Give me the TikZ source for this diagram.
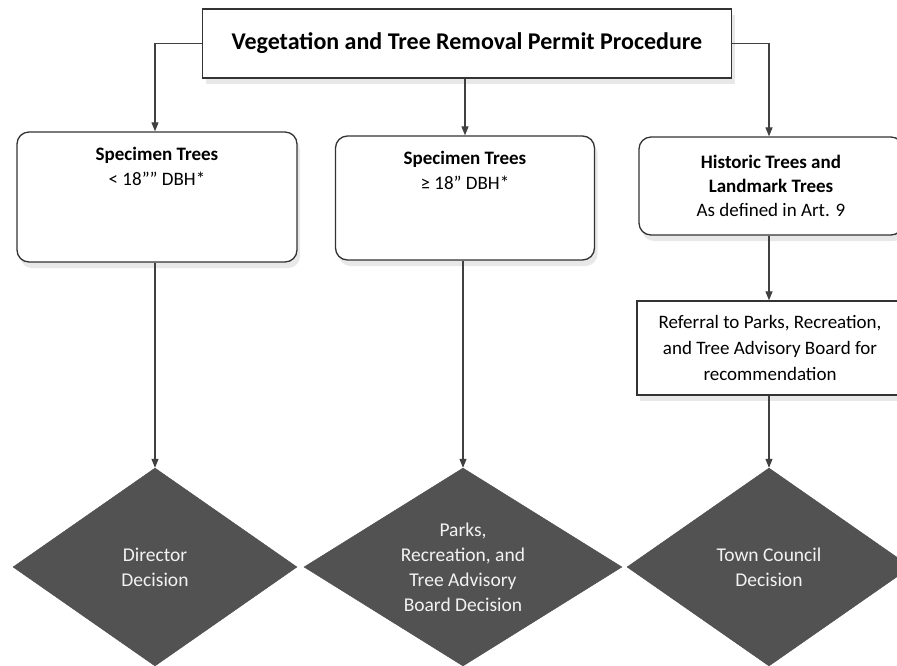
\documentclass[tikz,border=0pt]{standalone}
\usepackage{fontspec}
\setmainfont{Carlito}
\usetikzlibrary{shapes.geometric,arrows.meta,shadows}
\begin{document}
\begin{tikzpicture}[x=1pt,y=-1pt]
	\tikzstyle{plainbox} = [rectangle, draw=black!80, line width=1.3pt, fill=white, inner sep=3pt, align=center,
		drop shadow={shadow xshift=3pt, shadow yshift=-6pt, fill=black!15, opacity=0.6}]
	\tikzstyle{roundbox} = [plainbox, rounded corners=12pt]
	\tikzstyle{decision} = [diamond, draw=black!70, fill=black!68, inner sep=0pt, minimum height=198pt]
	\tikzstyle{dectext}  = [text=black!5, align=center, font=\fontsize{19.5}{25}\selectfont]
	\tikzstyle{conn}     = [draw=black!75, line width=1.1pt, -{Triangle[length=9pt,width=7pt]}]

	\useasboundingbox (0,0) rectangle (897,665);

	% top box
	\node[plainbox, minimum width=529pt, minimum height=69pt, font=\bfseries\fontsize{24}{28}\selectfont]
		(title) at (467,43.5) {Vegetation and Tree Removal Permit Procedure};

	% categories
	\node[roundbox, minimum width=280pt, minimum height=130pt,
		label={[anchor=north, yshift=-12pt, align=center, font=\fontsize{19}{25}\selectfont]north:{\bfseries Specimen Trees\\< 18”" DBH*}}]
		(spec1) at (157,197) {};
	\node[roundbox, minimum width=259pt, minimum height=124pt,
		label={[anchor=north, yshift=-12pt, align=center, font=\fontsize{19}{25}\selectfont]north:{\bfseries Specimen Trees\\≥ 18” DBH*}}]
		(spec2) at (465,198) {};
	\node[roundbox, minimum width=264pt, minimum height=98pt, font=\fontsize{19}{24}\selectfont]
		(hist) at (771,186) {{\bfseries Historic Trees and}\\{\bfseries Landmark Trees}\\As defined in Art. 9};
	\node[plainbox, minimum width=266pt, minimum height=94pt, font=\fontsize{19}{26}\selectfont]
		(referral) at (770,348) {Referral to Parks, Recreation,\\and Tree Advisory Board for\\recommendation};

	% decisions
	\foreach \name/\x/\w/\txt in {dirdec/155/284/{Director\\Decision},
			parkdec/463/318/{Parks,\\Recreation, and\\Tree Advisory\\Board Decision},
			towndec/769/284/{Town Council\\Decision}}
		\node[decision, minimum width=\w pt, label={[dectext]center:\txt}] (\name) at (\x,567) {};

	% connectors
	\draw[conn] (title.west) -| (dirdec.north |- spec1.north);
	\draw[conn] (title.south -| spec2.north) -- (spec2.north);
	\draw[conn] (title.east) -| (towndec.north |- hist.north);

	\draw[conn] (dirdec.north |- spec1.south) -- (dirdec.north);
	\draw[conn] (parkdec.north |- spec2.south) -- (parkdec.north);
	\draw[conn] (towndec.north |- hist.south) -- (towndec.north |- referral.north);
	\draw[conn] (towndec.north |- referral.south) -- (towndec.north);
\end{tikzpicture}
\end{document}
